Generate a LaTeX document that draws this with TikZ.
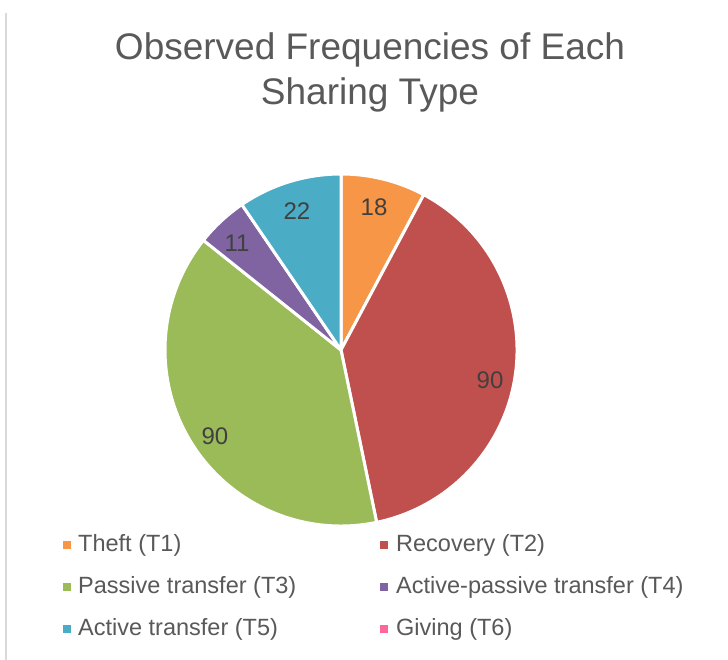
\documentclass[tikz,border=0pt]{standalone}
\usepackage{fontspec}
\setmainfont{Liberation Sans}
\definecolor{cT1}{HTML}{F79646}
\definecolor{cT2}{HTML}{C0504D}
\definecolor{cT3}{HTML}{9BBB59}
\definecolor{cT4}{HTML}{8064A2}
\definecolor{cT5}{HTML}{4BACC6}
\definecolor{cT6}{HTML}{FF6699}
\definecolor{titlegray}{HTML}{595959}
\definecolor{labelgray}{HTML}{404040}
\definecolor{framegray}{HTML}{D9D9D9}
\begin{document}
\begin{tikzpicture}[x=1pt,y=1pt,
  slice/.style={draw=white,line width=3pt,line join=round},
  datalabel/.style={font=\fontsize{24}{28}\selectfont,text=labelgray,inner sep=0pt},
  legtext/.style={font=\fontsize{23.5}{28}\selectfont,text=titlegray,anchor=west,inner sep=0pt},
  legmark/.style={minimum size=8pt,inner sep=0pt},
  titletext/.style={font=\fontsize{37}{44}\selectfont,text=titlegray,inner sep=0pt}]
\useasboundingbox (0,0) rectangle (728,660);
\fill[white] (0,0) rectangle (728,660);
\draw[framegray,line width=2pt] (6,647) -- (6,0);
% title
\node[titletext] (title1) at (370,610) {Observed Frequencies of Each};
\node[titletext] (title2) at (370,565) {Sharing Type};
% pie
\coordinate (c) at (341,310);
\def\R{176}
\filldraw[slice,fill=cT1] (c) -- ++(90:\R) arc[start angle=90,end angle=61.95,radius=\R] -- cycle;
\filldraw[slice,fill=cT2] (c) -- ++(61.95:\R) arc[start angle=61.95,end angle=-78.31,radius=\R] -- cycle;
\filldraw[slice,fill=cT3] (c) -- ++(-78.31:\R) arc[start angle=-78.31,end angle=-218.57,radius=\R] -- cycle;
\filldraw[slice,fill=cT4] (c) -- ++(-218.57:\R) arc[start angle=-218.57,end angle=-235.71,radius=\R] -- cycle;
\filldraw[slice,fill=cT5] (c) -- ++(-235.71:\R) arc[start angle=-235.71,end angle=-270,radius=\R] -- cycle;
% data labels
\node[datalabel] (l1) at (374,453) {18};
\node[datalabel] (l2) at (490,280) {90};
\node[datalabel] (l3) at (215,224) {90};
\node[datalabel] (l4) at (237,417) {11};
\node[datalabel] (l5) at (297,449) {22};
% legend
\node[legmark,fill=cT1] (m1) at (67,115) {};
\node[legtext] (t1) at (78,115) {Theft (T1)};
\node[legmark,fill=cT2] (m2) at (384,115) {};
\node[legtext] (t2) at (396,115) {Recovery (T2)};
\node[legmark,fill=cT3] (m3) at (67,73) {};
\node[legtext] (t3) at (78,73) {Passive transfer (T3)};
\node[legmark,fill=cT4] (m4) at (384,73) {};
\node[legtext] (t4) at (396,73) {Active-passive transfer (T4)};
\node[legmark,fill=cT5] (m5) at (67,31) {};
\node[legtext] (t5) at (78,31) {Active transfer (T5)};
\node[legmark,fill=cT6] (m6) at (384,31) {};
\node[legtext] (t6) at (396,31) {Giving (T6)};
\end{tikzpicture}
\end{document}
